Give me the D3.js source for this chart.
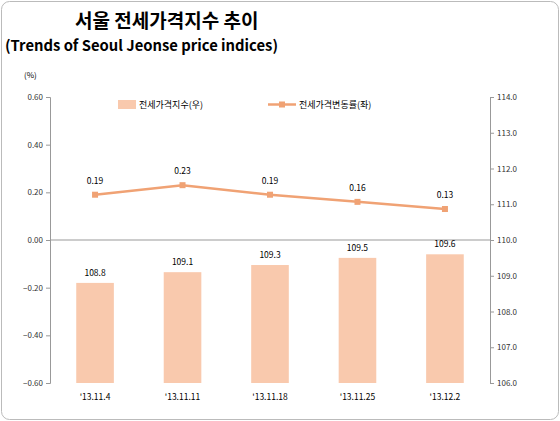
<!DOCTYPE html><html><head><meta charset="utf-8"><script src="https://cdn.jsdelivr.net/npm/d3@7"></script>
<style>body{margin:0;background:#fff}text{font-family:"Noto Sans CJK KR","Noto Sans",sans-serif}</style></head><body>
<svg id="c" width="560" height="421"></svg>
<script>
const categories=["'13.11.4","'13.11.11","'13.11.18","'13.11.25","'13.12.2"];
const indexValues=[108.8,109.1,109.3,109.5,109.6];
const changeValues=[0.19,0.23,0.19,0.16,0.13];
const leftTicks=[0.6,0.4,0.2,0,-0.2,-0.4,-0.6];
const rightTicks=[114,113,112,111,110,109,108,107,106];
const svg=d3.select("#c");
svg.append("rect").attr("x",1.5).attr("y",1.5).attr("width",557).attr("height",418).attr("rx",8).attr("fill","#fff").attr("stroke","#bbb");
svg.append("text").attr("x",75).attr("y",28).attr("font-size",19).attr("font-weight","bold").text("서울 전세가격지수 추이");
svg.append("text").attr("x",5).attr("y",51).attr("font-size",14.8).attr("font-weight","bold").attr("font-family","Liberation Sans, Arial").text("(Trends of Seoul Jeonse price indices)");
svg.append("text").attr("x",24).attr("y",78).attr("font-size",8).text("(%)");
const L=50,R=490,T=97,B=383;
const x=d3.scaleBand().domain(categories).range([L,R]).paddingInner(0.57).paddingOuter(0.3);
const yl=d3.scaleLinear().domain([-0.6,0.6]).range([B,T]);
const yr=d3.scaleLinear().domain([106,114]).range([B,T]);
const gl=svg.append("g").attr("transform",`translate(${L},0)`).call(d3.axisLeft(yl).tickValues(leftTicks).tickFormat(d3.format(".2f")).tickSize(4));
const gr=svg.append("g").attr("transform",`translate(${R},0)`).call(d3.axisRight(yr).tickValues(rightTicks).tickFormat(d3.format(".1f")).tickSize(4));
[gl,gr].forEach(g=>{g.selectAll("path,line").attr("stroke","#999");g.selectAll("text").attr("font-size",8).attr("fill","#333").attr("font-family","Liberation Sans, Arial");});
svg.append("line").attr("x1",L).attr("x2",R).attr("y1",yl(0)).attr("y2",yl(0)).attr("stroke","#999");
svg.selectAll(".bar").data(indexValues).join("rect").attr("x",(d,i)=>x(categories[i])).attr("width",x.bandwidth())
 .attr("y",d=>yr(d)).attr("height",d=>B-yr(d)).attr("fill","#f9c9ad");
svg.selectAll(".bl").data(indexValues).join("text").attr("x",(d,i)=>x(categories[i])+x.bandwidth()/2).attr("y",d=>yr(d)-7)
 .attr("text-anchor","middle").attr("font-size",8.5).attr("font-family","Liberation Sans, Arial").text(d=>d.toFixed(1));
const cx=(d,i)=>x(categories[i])+x.bandwidth()/2;
svg.append("path").datum(changeValues).attr("fill","none").attr("stroke","#f0a274").attr("stroke-width",2.5)
 .attr("d",d3.line().x(cx).y(d=>yl(d)));
svg.selectAll(".pt").data(changeValues).join("rect").attr("x",(d,i)=>cx(d,i)-3).attr("y",d=>yl(d)-3).attr("width",6).attr("height",6).attr("fill","#f0a274");
svg.selectAll(".ll").data(changeValues).join("text").attr("x",cx).attr("y",d=>yl(d)-11)
 .attr("text-anchor","middle").attr("font-size",8.5).attr("font-family","Liberation Sans, Arial").text(d=>d.toFixed(2));
svg.selectAll(".xl").data(categories).join("text").attr("x",(d)=>x(d)+x.bandwidth()/2).attr("y",400)
 .attr("text-anchor","middle").attr("font-size",8.5).attr("font-family","Liberation Sans, Arial").text(d=>d);
svg.append("rect").attr("x",118).attr("y",100).attr("width",18).attr("height",9).attr("fill","#f9c9ad");
svg.append("text").attr("x",139).attr("y",108).attr("font-size",9).text("전세가격지수(우)");
svg.append("line").attr("x1",268).attr("x2",296).attr("y1",104.5).attr("y2",104.5).attr("stroke","#f0a274").attr("stroke-width",2.5);
svg.append("rect").attr("x",279).attr("y",101.5).attr("width",6).attr("height",6).attr("fill","#f0a274");
svg.append("text").attr("x",299).attr("y",108).attr("font-size",9).text("전세가격변동률(좌)");
</script></body></html>
